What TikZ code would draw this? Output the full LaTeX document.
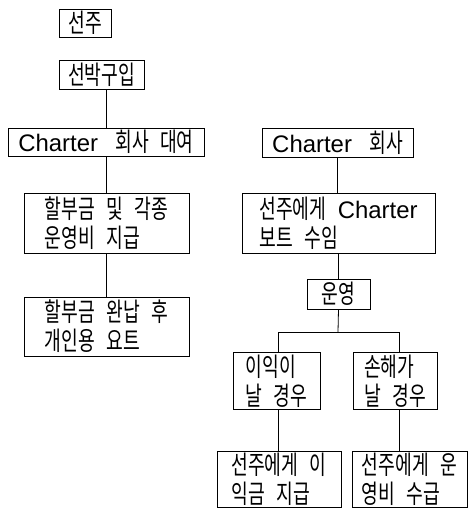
\documentclass[tikz,border=0pt]{standalone}
\usepackage{fontspec}
\setmainfont{Noto Sans CJK KR}[FakeStretch=0.7,WordSpace=2.8]
\newfontfamily\lat{Liberation Sans}[Scale=0.92,WordSpace=2.6]
\begin{document}
\begin{tikzpicture}[x=1pt,y=-1pt,
  box/.style={draw, line width=0.8pt, inner sep=2pt, align=left,
    font=\fontsize{26}{29}\selectfont},
  conn/.style={line width=0.8pt}]
\useasboundingbox (0,0) rectangle (470,509);
\node[box, minimum width=52, minimum height=28] (A) at (85,23) {선주};
\node[box, minimum width=85, minimum height=29] (B) at (101.5,74.5) {선박구입};
\node[box, minimum width=196, minimum height=28] (C) at (106,142) {{\lat Charter }회사 대여};
\node[box, minimum width=165, minimum height=60] (D) at (106.5,223) {할부금 및 각종\\운영비 지급};
\node[box, minimum width=165, minimum height=59] (E) at (106.5,326.5) {할부금 완납 후\\개인용 요트};
\node[box, minimum width=151, minimum height=29] (F) at (337.5,142.5) {{\lat Charter }회사};
\node[box, minimum width=193, minimum height=60] (G) at (338.5,223) {선주에게 {\lat Charter}\\보트 수임};
\node[box, minimum width=63, minimum height=30] (H) at (338.5,294) {운영};
\node[box, minimum width=87, minimum height=56] (I) at (276.5,381) {이익이\\날 경우};
\node[box, minimum width=84, minimum height=56] (J) at (395,381) {손해가\\날 경우};
\node[box, minimum width=124, minimum height=55] (K) at (279,479.5) {선주에게 이\\익금 지급};
\node[box, minimum width=115, minimum height=55] (L) at (409.5,479.5) {선주에게 운\\영비 수급};
\coordinate (br) at (338,332);
\draw[conn] (C.north) -- (C.north |- B.south);
\draw[conn] (C.south) -- (C.south |- D.north);
\draw[conn] (D.south) -- (E.north);
\draw[conn] (F.south) -- (F.south |- G.north);
\draw[conn] (G.south) -- (H.north);
\draw[conn] (H.south) -- (br);
\draw[conn] ([xshift=1.5pt]I.north) -- ([xshift=1.5pt]I.north |- br) -- ([xshift=4pt]J.north |- br) -- ([xshift=4pt]J.north);
\draw[conn] ([xshift=1.5pt]I.south) -- ([xshift=1.5pt]I.south |- K.north);
\draw[conn] ([xshift=4pt]J.south) -- ([xshift=4pt]J.south |- L.north);
\end{tikzpicture}
\end{document}
